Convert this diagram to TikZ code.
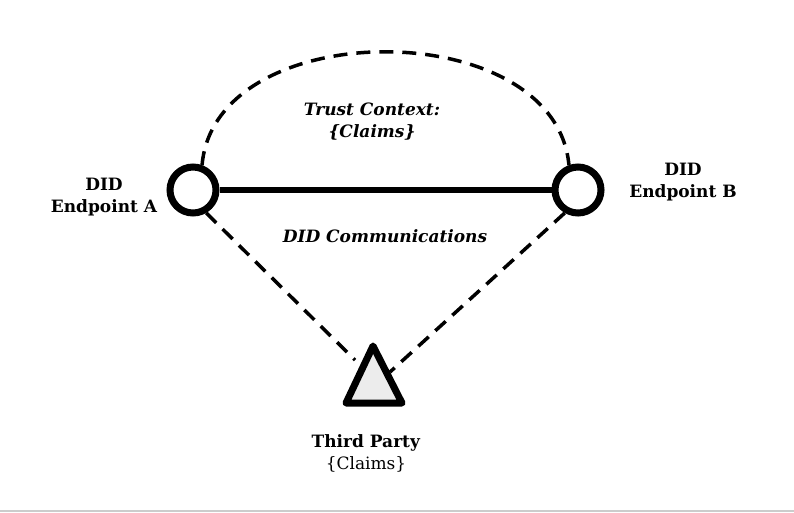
\documentclass[tikz,border=0pt]{standalone}
\usepackage{fontspec}
\setmainfont{DejaVu Serif}
\begin{document}
\begin{tikzpicture}[x=1pt,y=-1pt,
  lbl/.style={align=center,font=\fontsize{17}{22}\selectfont},
  dashd/.style={line width=3.5pt,dash pattern=on 14pt off 9pt},
  ep/.style={circle,draw,line width=7pt,minimum size=46pt,inner sep=0pt,fill=white}]
\useasboundingbox (0,0) rectangle (794,512);
\draw[gray!40,line width=1.5pt] (0,511) -- (794,511);
\node[ep] (a) at (193,190) {};
\node[ep] (b) at (578,190) {};
\draw[line width=6.5pt] (a) -- (b);
\coordinate (t1) at (373,346);
\coordinate (t2) at (346,403);
\coordinate (t3) at (402,403);
\draw[dashd] (a.70) .. controls (215,14) and (555,14) .. (b.110);
\draw[dashd] (a.-60) -- (355,360);
\draw[dashd] (b.-120) -- (390,372);
\draw[line width=7pt,line join=round,fill=gray!15] (t1) -- (t2) -- (t3) -- cycle;
\node[lbl,font=\fontsize{17}{22}\selectfont\bfseries] (la) at (104,197) {DID\\Endpoint A};
\node[lbl,font=\fontsize{17}{22}\selectfont\bfseries] (lb) at (683,182) {DID\\Endpoint B};
\node[lbl,font=\fontsize{17}{22}\selectfont\bfseries\itshape] (tc) at (372,122) {Trust Context:\\\{Claims\}};
\node[lbl,font=\fontsize{17}{22}\selectfont\bfseries\itshape] (dc) at (385,236) {DID Communications};
\node[lbl] (tp) at (366,453) {\textbf{Third Party}\\\{Claims\}};
\end{tikzpicture}
\end{document}
